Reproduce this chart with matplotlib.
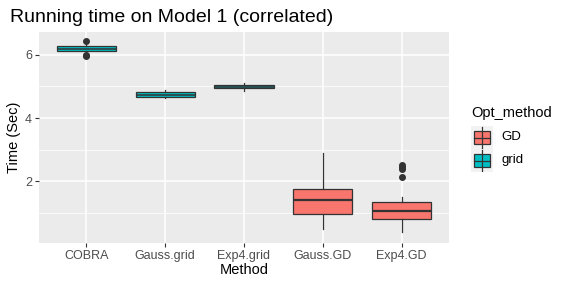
import matplotlib
matplotlib.use("Agg")
import matplotlib.pyplot as plt
from matplotlib.patches import Rectangle

plt.rcParams['font.family'] = ['Liberation Sans', 'DejaVu Sans']

# box summaries
methods = ["COBRA", "Gauss.grid", "Exp4.grid", "Gauss.GD", "Exp4.GD"]
opt = ["grid", "grid", "grid", "GD", "GD"]
whislo = [6.08, 4.63, 4.87, 0.50, 0.39]
q1 = [6.12, 4.68, 4.94, 0.97, 0.82]
med = [6.19, 4.73, 4.99, 1.41, 1.06]
q3 = [6.28, 4.81, 5.05, 1.77, 1.36]
whishi = [6.33, 4.90, 5.10, 2.91, 1.50]
fliers = [[6.42, 5.98, 5.95], [], [], [], [2.52, 2.45, 2.38, 2.15]]

colors = {"GD": "#F8766D", "grid": "#00BFC4"}
edge = "#333333"

fig = plt.figure(figsize=(5.67, 2.88), dpi=100)
ax = fig.add_axes([39/567, 1-243/288, 410/567, 211/288])
ax.set_facecolor("#EBEBEB")

stats = []
for i in range(len(methods)):
    stats.append(dict(whislo=whislo[i], q1=q1[i], med=med[i], q3=q3[i],
                      whishi=whishi[i], fliers=fliers[i]))

bp = ax.bxp(stats, positions=range(1, 6), widths=0.75, patch_artist=True,
            showcaps=False,
            boxprops=dict(edgecolor=edge, linewidth=0.9),
            medianprops=dict(color=edge, linewidth=1.6),
            whiskerprops=dict(color=edge, linewidth=0.9),
            flierprops=dict(marker="o", markerfacecolor=edge, markeredgecolor=edge,
                            markersize=4))
for patch, o in zip(bp["boxes"], opt):
    patch.set_facecolor(colors[o])
# thin medians for the narrow grid boxes
for line, o in zip(bp["medians"], opt):
    if o == "grid":
        line.set_linewidth(1.1)

ax.set_xlim(0.4, 5.6)
ax.set_ylim(0.05, 6.72)
ax.set_yticks([2, 4, 6])
ax.set_yticks([1, 3, 5], minor=True)
ax.set_xticks(range(1, 6))
ax.set_xticklabels(methods)
ax.grid(True, which="major", color="white", linewidth=1.1)
ax.grid(True, which="minor", axis="y", color="white", linewidth=0.55)
ax.set_axisbelow(True)
for s in ax.spines.values():
    s.set_visible(False)
ax.tick_params(axis="both", which="major", length=3, color="#333333",
               labelcolor="#4D4D4D", labelsize=9, pad=2)
ax.tick_params(axis="y", which="minor", length=0)

ax.set_xlabel("Method", fontsize=10.5, labelpad=1)
ax.set_ylabel("Time (Sec)", fontsize=10.5, labelpad=3)
fig.text(10/567, 1-18/288, "Running time on Model 1 (correlated)", fontsize=14,
         va="center", ha="left")

# legend
fig.text(471/567, 1-113/288, "Opt_method", fontsize=10.5, va="center", ha="left")
lax = fig.add_axes([471/567, 1-172/288, 22/567, 46/288])
lax.set_xlim(0, 1)
lax.set_ylim(0, 2)
lax.axis("off")
lax.add_patch(Rectangle((0, 0), 1, 2, facecolor="#F2F2F2", edgecolor="none"))
labs = ["GD", "grid"]
for k, lab in enumerate(labs):
    yc = 1.5 - k
    lax.plot([0.5, 0.5], [yc - 0.45, yc + 0.45], color=edge, lw=0.9)
    lax.add_patch(Rectangle((0.12, yc - 0.28), 0.76, 0.56, facecolor=colors[lab],
                            edgecolor=edge, lw=0.9))
    lax.plot([0.12, 0.88], [yc, yc], color=edge, lw=0.9)
    fig.text(501/567, (1-172/288) + (yc/2)*(46/288), lab, fontsize=9.5,
             va="center", ha="left")

fig.savefig("out.png", dpi=100)
